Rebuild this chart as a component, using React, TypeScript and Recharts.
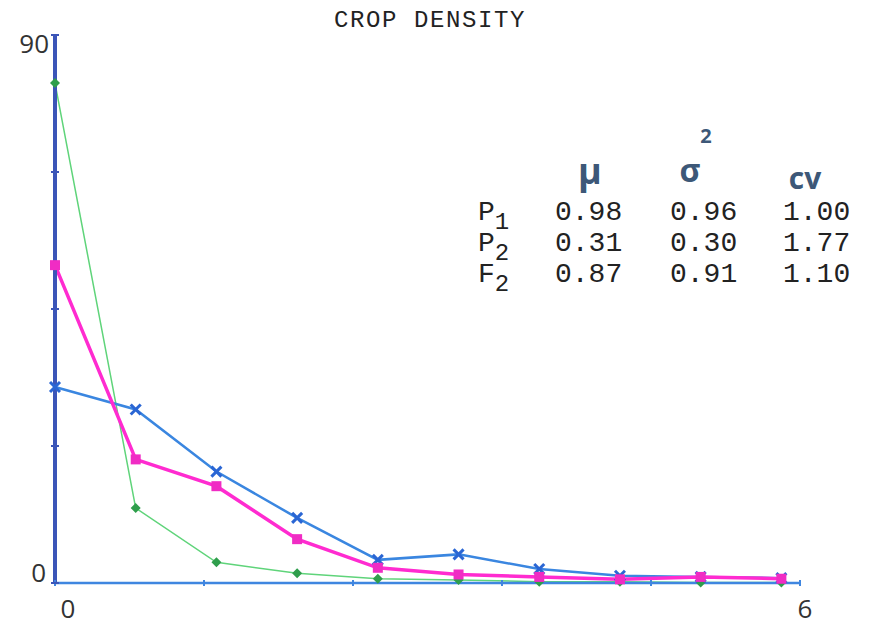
import { LineChart, Line, XAxis, YAxis } from "recharts";

const plantsPerQuadrat = [0, 0.65, 1.3, 1.95, 2.6, 3.25, 3.9, 4.55, 5.2, 5.85];
const p1Density = [32.2, 28.5, 18.3, 10.7, 3.8, 4.7, 2.3, 1.2, 1.0, 0.8];
const p2Density = [82.1, 12.3, 3.4, 1.6, 0.7, 0.5, 0.2, 0.2, 0.1, 0.1];
const f2Density = [52.2, 20.3, 15.9, 7.2, 2.5, 1.4, 1.0, 0.6, 1.0, 0.7];

const yTicks = [0, 22.5, 45, 67.5, 90];
const xTicks = [0, 1.2, 2.4, 3.6, 4.8, 6];

const statRows = [
  { name: "P", sub: "1", mu: "0.98", sigma2: "0.96", cv: "1.00" },
  { name: "P", sub: "2", mu: "0.31", sigma2: "0.30", cv: "1.77" },
  { name: "F", sub: "2", mu: "0.87", sigma2: "0.91", cv: "1.10" },
];

const data = plantsPerQuadrat.map((x, i) => ({
  x,
  p1: p1Density[i],
  p2: p2Density[i],
  f2: f2Density[i],
}));

const mono = "'Liberation Mono', 'DejaVu Sans Mono', monospace";
const sans = "'Open Sans', 'DejaVu Sans', sans-serif";

const YTick = (props: any) => {
  const { y, payload } = props;
  const v = payload.value;
  return (
    <g>
      <line x1={51} x2={59} y1={y} y2={y} stroke="#3b55b8" strokeWidth={2} />
      {v === 90 && (
        <text x={49} y={y + 18} textAnchor="end" fontSize={26} fontFamily={sans} fill="#333">
          90
        </text>
      )}
      {v === 0 && (
        <text x={46} y={y - 1} textAnchor="end" fontSize={26} fontFamily={sans} fill="#333">
          0
        </text>
      )}
    </g>
  );
};

const XTick = (props: any) => {
  const { x, payload } = props;
  const v = payload.value;
  return (
    <g>
      <line x1={x} x2={x} y1={580} y2={586} stroke="#3f86e0" strokeWidth={2} />
      {v === 0 && (
        <text x={x + 13} y={618} textAnchor="middle" fontSize={26} fontFamily={sans} fill="#333">
          0
        </text>
      )}
      {v === 6 && (
        <text x={x + 5} y={618} textAnchor="middle" fontSize={26} fontFamily={sans} fill="#333">
          6
        </text>
      )}
    </g>
  );
};

const CrossDot = (props: any) => {
  const { cx, cy, index } = props;
  const s = 5;
  return (
    <g key={`c-${index}`}>
      <line x1={cx - s} y1={cy - s} x2={cx + s} y2={cy + s} stroke="#2a66d4" strokeWidth={3} />
      <line x1={cx - s} y1={cy + s} x2={cx + s} y2={cy - s} stroke="#2a66d4" strokeWidth={3} />
    </g>
  );
};

const SquareDot = (props: any) => {
  const { cx, cy, index } = props;
  return <rect key={`s-${index}`} x={cx - 5} y={cy - 5} width={10} height={10} fill="#f02cc4" />;
};

const DiamondDot = (props: any) => {
  const { cx, cy, index } = props;
  const s = 5;
  return (
    <polygon
      key={`d-${index}`}
      points={`${cx},${cy - s} ${cx + s},${cy} ${cx},${cy + s} ${cx - s},${cy}`}
      fill="#2f9e4c"
    />
  );
};

const colX = { name: 478, mu: 555, sigma2: 670, cv: 783 };
const rowY = [220, 251, 282];

export default function App() {
  return (
    <div style={{ position: "absolute", left: 0, top: 0, width: 875, height: 632, background: "#fff" }}>
      <LineChart
        width={875}
        height={632}
        data={data}
        margin={{ top: 35, right: 75, left: 0, bottom: 19 }}
      >
        <XAxis
          dataKey="x"
          type="number"
          domain={[0, 6]}
          ticks={xTicks}
          height={30}
          tickLine={false}
          tick={<XTick />}
          axisLine={{ stroke: "#3f86e0", strokeWidth: 2.5 }}
        />
        <YAxis
          type="number"
          domain={[0, 90]}
          ticks={yTicks}
          width={55}
          tickLine={false}
          tick={<YTick />}
          axisLine={{ stroke: "#3b55b8", strokeWidth: 4 }}
        />
        <Line
          dataKey="p2"
          stroke="#5fd47a"
          strokeWidth={1.5}
          dot={DiamondDot}
          isAnimationActive={false}
        />
        <Line
          dataKey="p1"
          stroke="#3a86e0"
          strokeWidth={2.5}
          dot={CrossDot}
          isAnimationActive={false}
        />
        <Line
          dataKey="f2"
          stroke="#ff2bd0"
          strokeWidth={3.5}
          dot={SquareDot}
          isAnimationActive={false}
        />
      </LineChart>
      <svg
        width={875}
        height={632}
        style={{ position: "absolute", left: 0, top: 0, pointerEvents: "none" }}
      >
        <text x={430} y={27} textAnchor="middle" fontSize={24} fontFamily={mono} letterSpacing={1.6} fill="#222">
          CROP DENSITY
        </text>
        <g fill="#3d5878" fontFamily={sans} fontWeight="bold">
          <text x={590} y={184} textAnchor="middle" fontSize={36}>μ</text>
          <text x={690} y={182} textAnchor="middle" fontSize={32}>σ</text>
          <text x={706} y={143} textAnchor="middle" fontSize={20}>2</text>
          <text x={805} y={189} textAnchor="middle" fontSize={30}>cv</text>
        </g>
        {statRows.map((r, i) => (
          <g key={r.name + r.sub + i} fontFamily={mono} fontSize={28} fill="#222">
            <text x={colX.name} y={rowY[i]}>
              {r.name}
              <tspan fontSize={24} dy={9}>{r.sub}</tspan>
            </text>
            <text x={colX.mu} y={rowY[i]}>{r.mu}</text>
            <text x={colX.sigma2} y={rowY[i]}>{r.sigma2}</text>
            <text x={colX.cv} y={rowY[i]}>{r.cv}</text>
          </g>
        ))}
      </svg>
    </div>
  );
}
